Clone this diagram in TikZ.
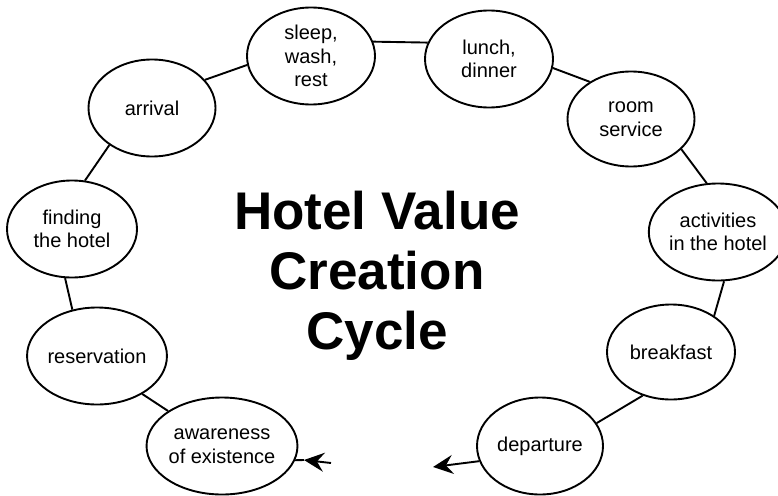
\documentclass[tikz,border=0pt]{standalone}
\usepackage{fontspec}
\setmainfont{Liberation Sans}
\usetikzlibrary{arrows.meta,shapes.geometric}
\tikzset{
  x=1pt, y=-1pt,
  stage/.style={draw, line width=1.9pt, ellipse, minimum width=128pt, minimum height=97pt, inner sep=0pt, align=center, font=\fontsize{20}{23.5}\selectfont},
  link/.style={line width=1.9pt},
  tip/.style={line width=1.9pt, -{Stealth[length=20pt, width=19pt, inset=7pt]}},
  title/.style={align=center, font=\fontsize{53}{60}\selectfont\bfseries}
}
\begin{document}
\begin{tikzpicture}
\useasboundingbox (0,0) rectangle (778,495);
\node[stage] (sleep) at (311,56) {sleep,\\wash,\\rest};
\node[stage] (lunch) at (489,59) {lunch,\\dinner};
\node[stage, minimum width=127pt, minimum height=95pt] (room) at (631,119) {room\\service};
\node[stage, minimum width=120pt] (act) at (718,232) {activities\\in the hotel};
\node[stage, minimum height=95pt] (break) at (671,352) {breakfast};
\node[stage, minimum width=126pt] (dep) at (540,446) {departure};
\node[stage, minimum width=127pt] (arr) at (152,108) {arrival};
\node[stage, minimum width=130pt] (find) at (72,229) {finding\\the hotel};
\node[stage] (res) at (97,356) {reservation};
\node[stage] (aw) at (222,446) {awareness\\of existence};
\node[title] (t) at (377,276) {Hotel Value\\Creation\\Cycle};
\draw[link] (arr.28) -- (sleep.188);
\draw[link] (sleep.13) -- (lunch.165);
\draw[link] (lunch.352) -- (room.138);
\draw[link] (room.329) -- (act.103);
\draw[link] (act.277) -- (break.40);
\draw[link] (break.237) -- (dep.22);
\draw[link] (arr.221) -- (find.75);
\draw[link] (find.262) -- (res.118);
\draw[link] (res.320) -- (aw.147);
\coordinate (a1) at (331,463);
\coordinate (a2) at (304,460);
\draw[tip] (a1) -- (a2);
\draw[link] (a2) -- (aw.349);
\coordinate (d1) at (433,467);
\draw[tip] (dep.194) -- (d1);
\end{tikzpicture}
\end{document}
